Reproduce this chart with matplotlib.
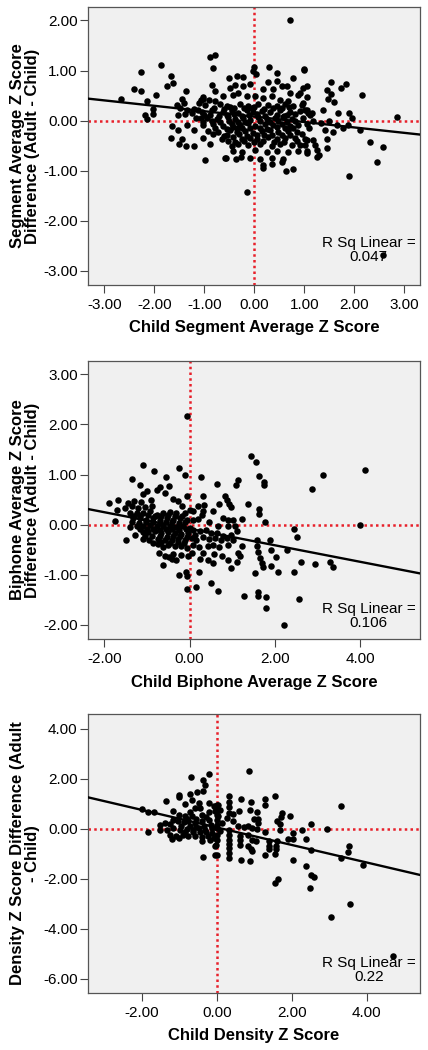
import numpy as np
import matplotlib
matplotlib.use("Agg")
import matplotlib.pyplot as plt

plt.rcParams['font.family'] = ['Liberation Sans', 'DejaVu Sans']
plt.rcParams['axes.unicode_minus'] = False

# ---- data ----
# panel 1: segment average
seg_pts = [
    (-2.66, 0.43), (-2.41, 0.64), (-2.27, 0.97), (-2.26, 0.60), (-1.86, 1.12), (-2.14, 0.40),
    (-1.96, 0.52), (-2.19, 0.12), (-2.15, 0.04), (-2.03, 0.14), (-2.02, 0.23), (-1.74, 0.70),
    (-1.66, 0.90), (-1.63, 0.75), (-1.36, 0.59), (-1.54, 0.32), (-1.45, 0.43), (-1.40, 0.35),
    (-1.48, 0.25), (-1.34, 0.22), (-1.53, 0.12), (-1.39, 0.14), (-1.20, 0.24), (-1.25, 0.15),
    (-1.13, 0.22), (-1.06, 0.41), (-1.03, 0.47), (-1.10, 0.35), (-1.17, 0.05), (-1.06, 0.05),
    (-1.00, 0.12), (-1.65, -0.10), (-1.52, -0.19), (-1.67, -0.35), (-1.44, -0.37), (-1.50, -0.47),
    (-1.36, -0.51), (-1.20, -0.51), (-1.20, -0.19), (-1.34, -0.08), (-0.98, -0.78), (-1.03, -0.02),
    (-0.89, 1.27), (-0.79, 1.32), (-0.83, 1.05), (-0.03, 0.99), (0.00, 1.08), (0.30, 1.07),
    (0.45, 0.95), (0.78, 0.85), (0.99, 1.03), (-0.50, 0.85), (-0.35, 0.89), (-0.22, 0.87),
    (-0.85, 0.72), (-0.39, 0.72), (-0.09, 0.74), (0.03, 0.94), (0.28, 0.77), (0.46, 0.79),
    (0.55, 0.70), (0.66, 0.69), (0.71, 0.55), (0.91, 0.55), (1.06, 0.69), (-0.79, 0.59),
    (-0.49, 0.65), (-0.22, 0.69), (0.18, 0.63), (0.37, 0.63), (-1.03, 0.43), (-0.90, 0.42),
    (-0.79, 0.39), (-0.62, 0.49), (-0.42, 0.52), (-0.32, 0.55), (-0.15, 0.49), (0.01, 0.49),
    (0.18, 0.45), (0.35, 0.49), (0.51, 0.42), (0.68, 0.39), (0.88, 0.52), (0.98, 0.35), (1.05, 0.22),
    (-0.99, 0.31), (-0.69, 0.34), (-0.55, 0.30), (-0.29, 0.33), (-0.12, 0.29), (0.08, 0.34),
    (0.28, 0.31), (0.45, 0.30), (0.61, 0.33), (0.78, 0.29), (0.95, 0.32),
    (-0.80, 0.26), (-0.60, 0.24), (-0.48, 0.27), (-0.20, 0.25), (0.00, 0.27), (0.20, 0.24),
    (0.38, 0.26), (0.55, 0.25), (0.70, 0.27),
    (-1.05, 0.18), (-0.85, 0.21), (-0.62, 0.17), (-0.45, 0.20), (-0.32, 0.16), (-0.15, 0.21),
    (-0.02, 0.18), (0.15, 0.20), (0.31, 0.17), (0.51, 0.21), (0.71, 0.18), (0.91, 0.19), (1.08, 0.16),
    (-0.88, 0.12), (-0.70, 0.10), (-0.40, 0.13), (-0.10, 0.11), (0.05, 0.13), (0.22, 0.10),
    (0.45, 0.12), (0.65, 0.11), (0.82, 0.13),
    (-0.95, 0.06), (-0.75, 0.03), (-0.52, 0.07), (-0.39, 0.04), (-0.22, 0.06), (-0.09, 0.02),
    (0.08, 0.07), (0.25, 0.04), (0.41, 0.05), (0.58, 0.08), (0.75, 0.03), (0.98, 0.06),
    (-0.85, -0.01), (-0.68, -0.03), (-0.50, 0.00), (-0.32, -0.02), (0.12, -0.01), (0.32, -0.03),
    (0.48, 0.00), (0.65, -0.02), (0.82, 0.00),
    (-1.02, -0.09), (-0.82, -0.06), (-0.62, -0.10), (-0.45, -0.07), (-0.29, -0.09), (-0.12, -0.05),
    (0.01, -0.10), (0.21, -0.07), (0.38, -0.09), (0.55, -0.06), (0.71, -0.10), (0.88, -0.08), (1.05, -0.06),
    (-0.78, -0.14), (-0.55, -0.16), (-0.42, -0.13), (-0.25, -0.15), (-0.08, -0.14), (0.25, -0.16),
    (0.45, -0.13), (0.62, -0.15), (0.78, -0.14),
    (-0.92, -0.20), (-0.72, -0.23), (-0.49, -0.19), (-0.35, -0.22), (-0.19, -0.20), (-0.02, -0.24),
    (0.15, -0.21), (0.31, -0.19), (0.48, -0.23), (0.68, -0.20), (0.85, -0.22),
    (-0.82, -0.27), (-0.55, -0.29), (-0.30, -0.27), (-0.15, -0.30), (0.05, -0.28), (0.20, -0.29),
    (0.55, -0.28), (0.72, -0.29),
    (-1.02, -0.34), (-0.65, -0.36), (-0.42, -0.33), (-0.25, -0.37), (-0.09, -0.34), (0.05, -0.36),
    (0.28, -0.33), (0.45, -0.37), (0.61, -0.35), (0.81, -0.34), (1.01, -0.36),
    (-0.52, -0.41), (-0.38, -0.43), (-0.20, -0.40), (0.00, -0.42), (0.18, -0.41), (0.40, -0.43),
    (0.60, -0.42), (0.85, -0.41),
    (-0.89, -0.47), (-0.45, -0.50), (-0.32, -0.46), (-0.12, -0.49), (0.11, -0.47), (0.35, -0.50),
    (0.51, -0.46), (0.75, -0.49), (0.91, -0.48),
    (-0.42, -0.60), (-0.25, -0.63), (0.01, -0.59), (0.25, -0.62), (0.45, -0.60), (0.68, -0.63),
    (0.88, -0.61), (1.05, -0.60),
    (-0.59, -0.74), (-0.37, -0.76), (-0.27, -0.73), (-0.09, -0.75), (0.11, -0.77), (0.35, -0.74),
    (0.58, -0.76), (0.78, -0.97), (0.63, -1.01), (0.56, -0.83), (0.36, -0.86), (0.18, -0.95),
    (0.18, -0.88), (-0.57, -0.75), (-0.15, -1.43),
    (-0.55, 0.12), (-0.40, 0.25), (-0.25, 0.10), (-0.05, 0.25), (0.12, -0.15), (-0.35, -0.15),
    (-0.18, -0.02), (0.35, -0.28), (-0.60, -0.30), (0.60, 0.10),
    (0.99, 1.02), (1.53, 0.77), (1.83, 0.73), (1.73, 0.65), (1.46, 0.62), (1.53, 0.53), (1.48, 0.44),
    (1.60, 0.37), (2.16, 0.51), (0.97, 0.65), (1.05, 0.47), (1.01, 0.22), (1.15, 0.15),
    (1.11, 0.12), (1.37, 0.22), (1.68, 0.15), (1.90, 0.15), (1.95, 0.05), (1.18, -0.01), (1.33, -0.05),
    (1.50, -0.01), (1.65, -0.08), (1.88, -0.08), (1.78, -0.15), (2.11, -0.18), (2.86, 0.07),
    (1.10, -0.15), (1.41, -0.18), (1.58, -0.22), (0.95, -0.26), (1.46, -0.36), (1.05, -0.38),
    (1.18, -0.38), (1.21, -0.48), (1.01, -0.48), (1.25, -0.58), (1.05, -0.65), (1.30, -0.68),
    (1.25, -0.73), (1.45, -0.55), (2.31, -0.42), (2.57, -0.53), (2.46, -0.83), (1.89, -1.10),
    (0.71, 2.01), (2.57, -2.68),
]
seg_fit = (0.08, -0.108)      # intercept, slope
seg_r2 = "0.047"

# panel 2: biphone average
biph_pts = [
    (-1.10, 1.19), (-0.83, 1.08), (-1.36, 0.91), (-0.24, 1.13), (-0.11, 1.00), (-0.56, 0.95),
    (-1.15, 0.80), (-0.48, 0.77), (-0.70, 0.75), (-0.77, 0.69), (-0.58, 0.63), (-0.99, 0.67),
    (-1.09, 0.61), (-1.89, 0.43), (-1.67, 0.49), (-1.71, 0.29), (-1.44, 0.43), (-1.30, 0.47),
    (-1.13, 0.45), (-0.91, 0.50), (-0.38, 0.51), (-0.28, 0.48), (-0.07, 0.57), (-0.17, 0.38),
    (-1.52, 0.33), (-1.36, 0.37), (-1.20, 0.33), (-1.05, 0.35), (-0.89, 0.37),
    (-1.40, 0.23), (-1.24, 0.23), (-1.09, 0.23), (-0.93, 0.27), (-0.77, 0.20), (-0.62, 0.23),
    (-0.46, 0.25), (-0.31, 0.23), (-0.11, 0.23), (0.00, 0.30),
    (-1.30, 0.18), (-1.15, 0.17), (-0.98, 0.19), (-0.82, 0.18), (-0.66, 0.17), (-0.50, 0.19),
    (-0.35, 0.18), (-0.18, 0.17),
    (-1.32, 0.13), (-1.17, 0.13), (-1.01, 0.10), (-0.85, 0.13), (-0.70, 0.10), (-0.54, 0.13),
    (-0.38, 0.10), (-0.23, 0.13), (-0.07, 0.09), (-1.75, 0.07),
    (-1.35, 0.05), (-1.18, 0.04), (-1.02, 0.06), (-0.86, 0.05), (-0.70, 0.04), (-0.55, 0.06),
    (-0.40, 0.05), (-0.25, 0.04), (-0.10, 0.05),
    (-1.40, -0.05), (-1.24, -0.03), (-1.09, -0.02), (-0.93, 0.00), (-0.77, -0.02), (-0.62, -0.03),
    (-0.46, -0.02), (-0.31, -0.05), (-0.15, -0.03), (0.01, -0.07),
    (-1.15, -0.09), (-1.00, -0.08), (-0.85, -0.09), (-0.70, -0.10), (-0.55, -0.08), (-0.40, -0.09),
    (-0.24, -0.10), (-0.08, -0.09), (0.12, -0.20),
    (-1.28, -0.20), (-1.09, -0.15), (-0.97, -0.15), (-0.81, -0.13), (-0.66, -0.17), (-0.50, -0.15),
    (-0.34, -0.17), (-0.19, -0.18), (-0.03, -0.17),
    (-1.05, -0.23), (-0.88, -0.22), (-0.70, -0.23), (-0.52, -0.24), (-0.38, -0.22), (-0.22, -0.23),
    (-0.06, -0.24),
    (-1.49, -0.31), (-1.10, -0.29), (-0.95, -0.30), (-0.74, -0.29), (-0.58, -0.30), (-0.42, -0.31),
    (-0.27, -0.29), (-0.11, -0.31),
    (-0.85, -0.36), (-0.68, -0.35), (-0.45, -0.36), (-0.28, -0.35), (-0.12, -0.37),
    (-0.74, -0.39), (-0.62, -0.45), (-0.50, -0.40), (-0.34, -0.43),
    (-0.19, -0.42), (-0.05, -0.47), (-0.71, -0.57), (-0.58, -0.62), (-0.38, -0.58), (-0.19, -0.60),
    (-0.03, -0.63), (-0.63, -0.80), (-0.49, -0.65), (-0.42, -0.69), (-0.31, -0.71),
    (-0.24, -1.00), (-0.09, -0.95), (-0.06, -1.02), (-0.06, -1.29),
    (1.44, 1.37), (1.55, 1.25), (1.63, 0.98), (1.74, 0.85), (1.74, 0.79), (2.87, 0.71),
    (0.26, 0.95), (0.65, 0.82), (1.09, 0.79), (1.14, 0.89), (0.32, 0.58), (0.83, 0.57),
    (0.87, 0.49), (0.93, 0.42), (0.97, 0.35), (0.70, 0.42), (1.37, 0.42), (1.63, 0.31),
    (1.63, 0.21), (1.76, 0.05), (1.23, 0.11), (1.02, 0.10), (0.91, 0.10), (0.79, 0.13),
    (0.54, 0.27), (0.34, 0.40), (0.20, 0.37), (0.32, 0.28), (0.28, 0.20), (0.07, 0.27),
    (0.07, 0.10), (0.20, 0.11), (0.46, 0.05), (0.67, -0.03), (0.91, -0.02), (1.06, -0.03),
    (0.09, -0.10), (0.24, -0.13), (0.38, -0.10), (0.51, -0.17), (0.65, -0.17), (0.79, -0.22),
    (0.98, -0.20), (1.10, -0.13), (0.05, -0.27), (0.16, -0.30), (0.32, -0.25), (0.46, -0.29),
    (0.59, -0.27), (0.73, -0.31), (0.87, -0.27), (1.01, -0.31), (1.57, -0.31), (1.88, -0.31),
    (0.09, -0.40), (0.23, -0.45), (0.44, -0.43), (0.55, -0.40), (0.70, -0.45), (0.91, -0.40),
    (1.22, -0.43), (1.57, -0.43), (1.92, -0.50), (2.29, -0.50), (2.45, -0.09), (2.52, -0.25),
    (0.05, -0.57), (0.32, -0.57), (0.57, -0.58), (0.77, -0.63), (1.14, -0.57), (1.18, -0.62),
    (1.61, -0.55), (1.65, -0.67), (2.02, -0.65), (0.24, -0.69), (0.44, -0.71), (0.54, -0.77),
    (0.91, -0.71), (1.10, -0.75), (1.69, -0.77), (1.71, -0.85), (1.92, -0.83), (2.60, -0.75),
    (2.95, -0.78), (0.98, -0.87), (0.23, -0.95), (1.53, -0.97), (2.08, -0.95), (2.45, -0.95),
    (0.51, -1.17), (0.16, -1.25), (0.67, -1.33), (1.28, -1.43), (1.61, -1.35), (1.61, -1.42),
    (1.79, -1.45), (2.57, -1.49), (1.79, -1.67),
    (-0.07, 2.17), (3.13, 0.99), (4.12, 1.10), (4.00, 0.00), (3.29, -0.75), (3.37, -0.85),
    (2.22, -2.00),
]
biph_fit = (-0.08, -0.165)
biph_r2 = "0.106"

# panel 3: density
dens_pts = [
    (-0.69, 2.05), (-0.21, 2.20), (-0.36, 1.93), (-0.31, 1.73), (-0.38, 1.49), (-0.54, 1.47),
    (-0.71, 1.40), (-1.02, 1.36), (-1.00, 1.27), (-1.36, 1.09), (-2.00, 0.80), (-1.84, 0.67),
    (-1.69, 0.65), (-0.85, 0.99), (-0.67, 1.16), (-0.49, 1.03), (-0.45, 0.83), (-0.22, 1.03),
    (-0.58, 0.83), (-0.71, 0.65), (-1.16, 0.69), (-1.02, 0.56), (-0.85, 0.49), (-0.67, 0.49),
    (-0.40, 0.56), (-0.20, 0.65), (-0.09, 0.89), (-0.05, 0.69), (-1.16, 0.36), (-1.38, 0.23),
    (-1.25, 0.19), (-1.05, 0.29), (-0.89, 0.25), (-0.76, 0.29), (-0.58, 0.23), (-0.40, 0.29),
    (-0.22, 0.36), (0.00, 0.33), (-1.51, 0.16), (-1.53, -0.04), (-1.34, -0.04), (-1.16, 0.03),
    (-0.98, -0.04), (-0.80, -0.01), (-0.64, -0.07), (-0.49, 0.03), (-0.31, -0.04), (-0.14, 0.03),
    (-1.84, -0.15), (-1.25, -0.24), (-1.09, -0.28), (-0.91, -0.24), (-0.76, -0.31), (-0.58, -0.28),
    (-0.40, -0.33), (-0.25, -0.28), (-0.09, -0.37), (-1.20, -0.41), (-1.00, -0.37), (-0.40, -0.51),
    (-0.18, -0.44), (-0.06, -0.68), (-0.36, -1.15), (-0.05, -1.04),
    (-0.95, 0.10), (-0.72, 0.12), (-0.55, 0.08), (-0.35, 0.12), (-0.15, 0.15), (-0.85, -0.15),
    (-0.65, -0.12), (-0.45, -0.15), (-0.28, -0.12), (-0.12, -0.18), (-0.55, 0.40), (-0.30, 0.45),
    (-0.80, 0.38),
    (0.87, 2.32), (1.56, 1.32), (0.31, 1.29), (0.64, 1.19), (0.92, 1.07), (1.29, 1.20),
    (1.29, 0.96), (0.31, 1.05), (0.04, 0.96), (0.09, 0.76), (0.60, 0.69), (0.89, 0.76),
    (1.08, 0.67), (0.31, 0.63), (0.44, 0.59), (1.73, 0.63), (1.71, 0.47), (1.96, 0.52),
    (0.98, 0.40), (1.09, 0.40), (0.04, 0.49), (0.27, 0.43), (0.44, 0.29), (1.11, 0.23),
    (1.60, 0.29), (1.69, 0.20), (2.51, 0.19), (0.13, 0.23), (0.56, 0.12), (0.71, 0.05),
    (0.83, 0.12), (0.93, 0.03), (1.07, -0.01), (1.69, -0.04), (2.27, -0.04), (0.00, 0.03),
    (0.09, -0.11), (0.31, -0.24), (0.62, -0.31), (0.84, -0.24), (1.29, -0.15), (2.04, -0.17),
    (1.89, -0.41), (2.04, -0.41), (2.37, -0.40), (0.31, -0.44), (0.62, -0.44), (0.93, -0.44),
    (1.04, -0.51), (1.38, -0.51), (1.60, -0.51), (0.62, -0.64), (0.84, -0.68), (1.38, -0.68),
    (1.58, -0.71), (0.31, -0.77), (0.92, -0.81), (1.39, -0.81), (0.00, -1.04), (0.31, -0.97),
    (0.95, -0.91), (1.58, -0.81), (2.51, -0.87), (1.29, -1.04), (1.56, -1.01), (0.31, -1.17),
    (0.65, -1.24), (0.89, -1.27), (2.04, -1.24), (2.37, -1.48), (2.51, -1.84), (2.60, -1.91),
    (1.62, -2.01), (1.56, -2.17), (2.49, -2.37),
    (0.00, 0.95), (0.00, 0.75), (0.00, 0.55), (0.00, 0.15), (0.00, -0.25), (0.00, -0.45),
    (-0.03, -0.65), (0.31, 0.85), (0.31, -0.05), (0.31, -0.62),
    (2.93, -0.01), (3.31, 0.89), (3.30, -1.17), (3.53, -0.71), (3.51, -0.95), (3.91, -1.44),
    (3.56, -3.01), (3.04, -3.51), (4.71, -5.07),
]
dens_fit = (0.05, -0.35)
dens_r2 = "0.22"

panels = [
    dict(pts=seg_pts, fit=seg_fit, r2=seg_r2,
         xlim=(-3.33, 3.31), ylim=(-3.28, 2.27),
         xticks=[-3, -2, -1, 0, 1, 2, 3], yticks=[-3, -2, -1, 0, 1, 2],
         xlabel="Child Segment Average Z Score",
         ylabel="Segment Average Z Score\nDifference (Adult - Child)",
         rect=[0.2056, 0.7286, 0.7757, 0.2648], r2y=0.126),
    dict(pts=biph_pts, fit=biph_fit, r2=biph_r2,
         xlim=(-2.38, 5.40), ylim=(-2.28, 3.27),
         xticks=[-2, 0, 2, 4], yticks=[-2, -1, 0, 1, 2, 3],
         xlabel="Child Biphone Average Z Score",
         ylabel="Biphone Average Z Score\nDifference (Adult - Child)",
         rect=[0.2056, 0.3914, 0.7757, 0.2650], r2y=0.083),
    dict(pts=dens_pts, fit=dens_fit, r2=dens_r2,
         xlim=(-3.44, 5.42), ylim=(-6.55, 4.57),
         xticks=[-2, 0, 2, 4], yticks=[-6, -4, -2, 0, 2, 4],
         xlabel="Child Density Z Score",
         ylabel="Density Z Score Difference (Adult\n- Child)",
         rect=[0.2056, 0.0546, 0.7757, 0.2651], r2y=0.080),
]

fig = plt.figure(figsize=(4.28, 10.5), dpi=100)

for p in panels:
    ax = fig.add_axes(p['rect'])
    ax.set_facecolor('#f0f0f0')
    pts = np.array(p['pts'])
    ax.axvline(0, color='#e8202a', lw=1.8, ls=(0, (1, 1.3)), zorder=1)
    ax.axhline(0, color='#e8202a', lw=1.8, ls=(0, (1, 1.3)), zorder=1)
    ax.scatter(pts[:, 0], pts[:, 1], s=22, c='black', linewidths=0, zorder=3)
    b0, b1 = p['fit']
    xs = np.array(p['xlim'])
    ax.plot(xs, b0 + b1 * xs, color='black', lw=1.7, zorder=4)
    ax.set_xlim(p['xlim'])
    ax.set_ylim(p['ylim'])
    ax.set_xticks(p['xticks'])
    ax.set_yticks(p['yticks'])
    ax.set_xticklabels(["%.2f" % v for v in p['xticks']])
    ax.set_yticklabels(["%.2f" % v for v in p['yticks']])
    ax.tick_params(direction='out', length=6, width=0.8, color='#444444',
                   labelsize=11)
    ax.tick_params(axis='x', pad=3.5)
    ax.tick_params(axis='y', pad=1.5)
    for s in ax.spines.values():
        s.set_color('#555555')
        s.set_linewidth(0.9)
    ax.set_xlabel(p['xlabel'], fontsize=12, fontweight='bold', labelpad=6)
    ax.set_ylabel(p['ylabel'], fontsize=12, fontweight='bold', labelpad=2,
                  linespacing=1.0)
    ax.text(0.987, p['r2y'], "R Sq Linear =\n" + p['r2'], transform=ax.transAxes,
            ha='right', va='center', multialignment='center', fontsize=11,
            linespacing=1.0, zorder=5)

fig.savefig("out.png", dpi=100)
